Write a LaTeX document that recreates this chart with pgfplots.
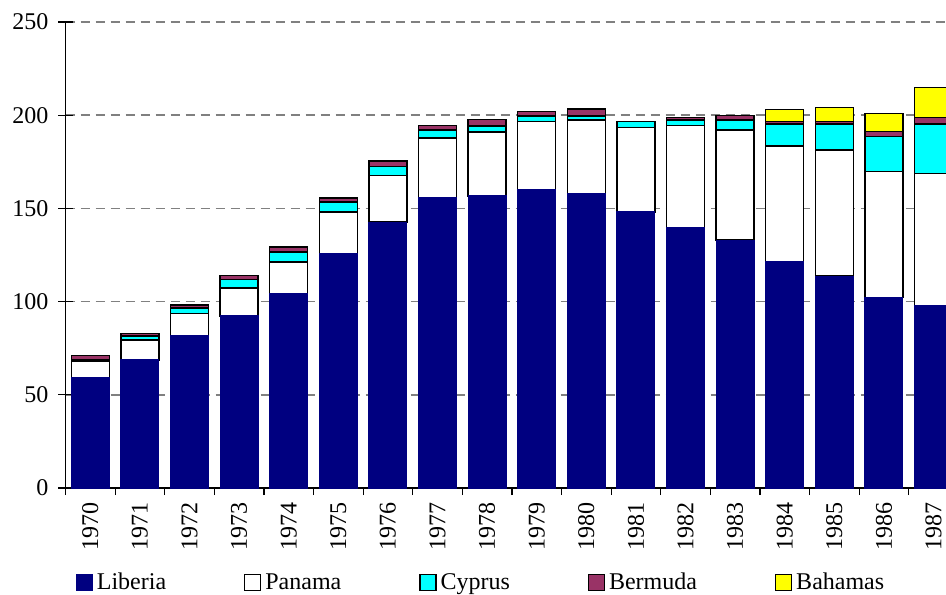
\documentclass[border=0pt]{standalone}
\usepackage{pgfplots}
\usepackage{pgfplotstable}
\pgfplotsset{compat=1.18}
\usepackage{fontspec}
\setmainfont{Liberation Serif}
\definecolor{liberia}{RGB}{0,0,128}
\definecolor{cyprus}{RGB}{0,255,255}
\definecolor{bermuda}{RGB}{153,51,102}
\definecolor{bahamas}{RGB}{255,255,0}
\pgfplotstableread{
x lib pan cyp ber bah
0 59.4 8.4 0.8 2.6 0
1 68.7 10.7 2.1 1.5 0
2 81.7 12.0 2.9 1.6 0
3 92.3 15.0 4.5 2.1 0
4 104.4 16.8 5.4 2.7 0
5 125.9 22.2 5.3 2.3 0
6 142.7 24.9 4.9 2.8 0
7 155.7 32.2 4.1 2.4 0
8 156.7 34.3 3.2 3.4 0
9 159.9 36.6 3.2 2.2 0
10 157.9 39.5 2.2 3.6 0
11 148.1 45.2 3.2 0 0
12 139.7 54.7 3.1 1.2 0
13 133.0 59.1 5.3 2.4 0
14 121.4 62.1 11.9 1.1 6.5
15 113.7 67.6 14.1 1.1 7.5
16 102.1 67.6 19.0 2.5 9.6
17 98.0 70.8 26.5 3.4 16.1
}\data
\begin{document}
\begin{tikzpicture}
\begin{axis}[
  at={(32.75pt,53pt)}, anchor=south west,
  scale only axis, width=440.2pt, height=233pt,
  ybar stacked, bar width=19pt,
  xmin=-0.5, xmax=17.25, ymin=0, ymax=250,
  axis lines*=left,
  axis line style={black, line width=0.6pt},
  xtick={0,...,17},
  xticklabels={1970,1971,1972,1973,1974,1975,1976,1977,1978,1979,1980,1981,1982,1983,1984,1985,1986,1987},
  major x tick style={draw=none},
  minor xtick={-0.5,0.5,...,16.5},
  minor x tick style={black, line width=0.6pt},
  minor tick length=3.5pt,
  major tick length=3.5pt,
  tick align=outside,
  y tick style={black, line width=0.6pt},
  extra y ticks={0,50,...,250},
  extra y tick labels={},
  extra y tick style={grid=none, tick align=inside, major tick length=3.5pt},
  ytick={0,50,...,250},
  ymajorgrids,
  grid style={gray, line width=0.7pt, dash pattern=on 4.5pt off 3pt},
  /pgf/number format/assume math mode=true,
  tick label style={font=\fontsize{12}{14}\selectfont},
  yticklabel style={xshift=-1.5pt},
  xticklabel style={rotate=90, anchor=east},
  legend style={at={(0.473,-0.2035)}, anchor=center, draw=none, legend columns=5,
    font=\fontsize{12}{14}\selectfont,
    /tikz/every even column/.append style={column sep=37pt}},
  legend image code/.code={\draw[#1, line width=0.6pt] (0pt,-4pt) rectangle (8pt,4pt);},
]
\addplot[fill=liberia, draw=liberia, line width=0.5pt] table[x=x,y=lib]{\data};
\addplot[fill=white, draw=black, line width=0.75pt] table[x=x,y=pan]{\data};
\addplot[fill=cyprus, draw=black, line width=0.75pt] table[x=x,y=cyp]{\data};
\addplot[fill=bermuda, draw=black, line width=0.75pt] table[x=x,y=ber]{\data};
\addplot[fill=bahamas, draw=black, line width=0.75pt] table[x=x,y=bah]{\data};
\legend{Liberia,Panama,Cyprus,Bermuda,Bahamas}
\end{axis}
\pgfresetboundingbox
\useasboundingbox (0,0) rectangle (473pt,297pt);
\end{tikzpicture}
\end{document}
